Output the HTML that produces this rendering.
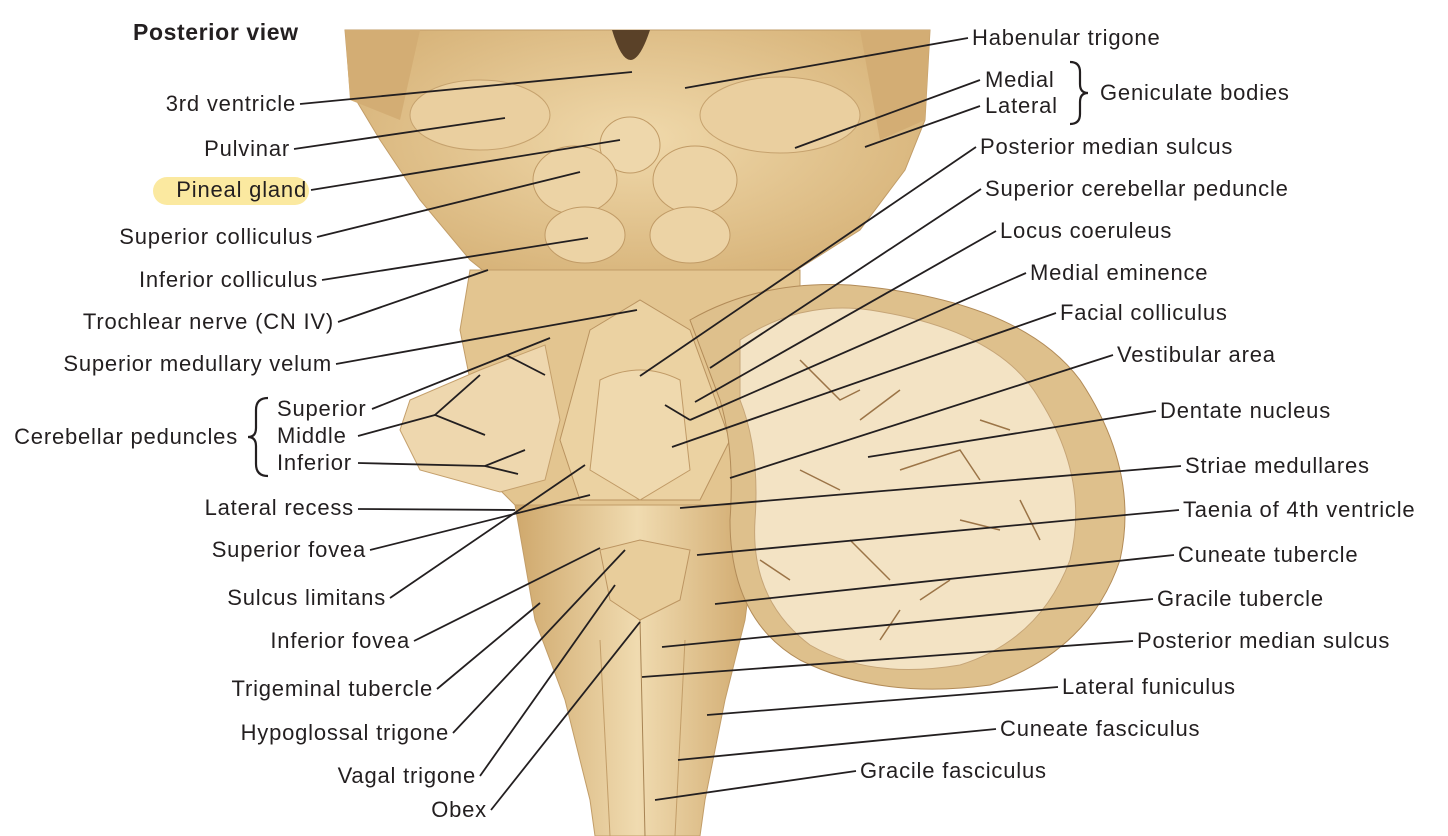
<!DOCTYPE html>
<html><head><meta charset="utf-8"><style>
html,body{margin:0;padding:0;background:#fff;}
svg{display:block;}
text{font-family:"Liberation Sans",sans-serif;font-size:22px;letter-spacing:0.8px;fill:#231f20;}
</style></head><body>
<svg width="1448" height="836" viewBox="0 0 1448 836" xmlns="http://www.w3.org/2000/svg">
<defs>
<radialGradient id="bg1" cx="50%" cy="40%" r="60%"><stop offset="0" stop-color="#f0d9ab"/><stop offset="1" stop-color="#d5b075"/></radialGradient>
<linearGradient id="med" x1="0" x2="1"><stop offset="0" stop-color="#cfa86c"/><stop offset="0.5" stop-color="#f0dbb0"/><stop offset="1" stop-color="#cea66a"/></linearGradient>
</defs>
<path d="M345,30 L930,30 L925,120 L905,170 L860,230 L800,268 L740,300 L520,300 L470,260 L420,200 L380,140 L350,90 Z" fill="url(#bg1)" stroke="#c29d68"/>
<path d="M345,30 L420,30 L400,120 L350,100 Z" fill="#d3ad74"/>
<path d="M860,30 L930,30 L925,120 L880,140 Z" fill="#d3ad74"/>
<path d="M612,30 Q630,90 650,30 Z" fill="#5a4128"/>
<ellipse cx="480" cy="115" rx="70" ry="35" fill="#eacf9f" stroke="#c6a26e"/>
<ellipse cx="780" cy="115" rx="80" ry="38" fill="#eacf9f" stroke="#c6a26e"/>
<ellipse cx="630" cy="145" rx="30" ry="28" fill="#eed7ab" stroke="#c19b66"/>
<ellipse cx="575" cy="180" rx="42" ry="34" fill="#ecd3a5" stroke="#c19b66"/>
<ellipse cx="695" cy="180" rx="42" ry="34" fill="#ecd3a5" stroke="#c19b66"/>
<ellipse cx="585" cy="235" rx="40" ry="28" fill="#ecd3a5" stroke="#c19b66"/>
<ellipse cx="690" cy="235" rx="40" ry="28" fill="#ecd3a5" stroke="#c19b66"/>
<path d="M470,270 L800,270 L800,330 L770,480 L750,510 L520,510 L490,480 L460,330 Z" fill="#e3c590" stroke="#c29d68"/>
<path d="M590,330 L640,300 L690,330 L730,440 L700,500 L580,500 L560,440 Z" fill="#ebd2a2" stroke="#b99360"/>
<path d="M600,380 Q640,360 680,380 L690,470 L640,500 L590,470 Z" fill="#efd9ae" stroke="#c09a66"/>
<path d="M410,400 L480,370 L545,345 L560,420 L545,480 L500,492 L420,470 L400,430 Z" fill="#eed7ae" stroke="#c49f6b"/>
<path d="M515,505 L760,505 L745,620 L725,700 L705,800 L700,836 L595,836 L590,800 L565,700 L535,620 Z" fill="url(#med)" stroke="#c29d68"/>
<path d="M600,550 L640,540 L690,550 L680,600 L640,620 L610,600 Z" fill="#e8cd9b" stroke="#bc9562"/>
<line x1="640" y1="620" x2="645" y2="836" stroke="#a78353"/>
<line x1="600" y1="640" x2="610" y2="836" stroke="#c29d68"/>
<line x1="685" y1="640" x2="675" y2="836" stroke="#c29d68"/>
<path d="M690,320 Q760,280 850,285 Q1020,300 1080,380 Q1140,470 1120,560 Q1090,650 990,685 Q880,700 800,660 Q730,620 730,520 Q735,450 720,400 Z" fill="#deC08c" stroke="#b28b58"/>
<path d="M740,340 Q800,300 870,310 Q1000,330 1040,400 Q1090,480 1070,560 Q1040,640 960,665 Q870,680 810,645 Q750,600 755,520 Q760,450 740,400 Z" fill="#f3e3c4" stroke="#c6a577"/>
<g stroke="#9b7447" stroke-width="1.5" fill="none">
<path d="M800,360 l40,40 l20,-10 M860,420 l40,-30 M900,470 l60,-20 l20,30 M960,520 l40,10 M850,540 l40,40 M920,600 l30,-20 M800,470 l40,20 M980,420 l30,10 M1020,500 l20,40 M880,640 l20,-30 M760,560 l30,20"/>
</g>
<text x="133" y="40" style="font-weight:bold;font-size:23px;letter-spacing:0.6px">Posterior view</text>
<rect x="153" y="177" width="156" height="28" rx="14" fill="#fbe9a0"/>
<g stroke="#231f20" stroke-width="1.8" fill="none">
<line x1="300" y1="104" x2="632" y2="72"/>
<line x1="294" y1="149" x2="505" y2="118"/>
<line x1="311" y1="190" x2="620" y2="140"/>
<line x1="317" y1="237" x2="580" y2="172"/>
<line x1="322" y1="280" x2="588" y2="238"/>
<line x1="338" y1="322" x2="488" y2="270"/>
<line x1="336" y1="364" x2="637" y2="310"/>
<line x1="372" y1="409" x2="550" y2="338"/>
<polyline points="506,355 545,375"/>
<polyline points="480,375 435,415 485,435"/>
<line x1="358" y1="436" x2="435" y2="415"/>
<polyline points="358,463 485,466 525,450"/>
<line x1="485" y1="466" x2="518" y2="474"/>
<line x1="358" y1="509" x2="515" y2="510"/>
<line x1="370" y1="550" x2="590" y2="495"/>
<line x1="390" y1="598" x2="585" y2="465"/>
<line x1="414" y1="641" x2="600" y2="548"/>
<line x1="437" y1="689" x2="540" y2="603"/>
<line x1="453" y1="733" x2="625" y2="550"/>
<line x1="480" y1="776" x2="615" y2="585"/>
<line x1="491" y1="810" x2="640" y2="622"/>
<line x1="968" y1="38" x2="685" y2="88"/>
<line x1="980" y1="80" x2="795" y2="148"/>
<line x1="980" y1="106" x2="865" y2="147"/>
<line x1="976" y1="147" x2="640" y2="376"/>
<line x1="981" y1="189" x2="710" y2="368"/>
<line x1="996" y1="231" x2="695" y2="402"/>
<line x1="1026" y1="273" x2="690" y2="420"/>
<line x1="665" y1="405" x2="690" y2="420"/>
<line x1="1056" y1="313" x2="672" y2="447"/>
<line x1="1113" y1="355" x2="730" y2="478"/>
<line x1="1156" y1="411" x2="868" y2="457"/>
<line x1="1181" y1="466" x2="680" y2="508"/>
<line x1="1179" y1="510" x2="697" y2="555"/>
<line x1="1174" y1="555" x2="715" y2="604"/>
<line x1="1153" y1="599" x2="662" y2="647"/>
<line x1="1133" y1="641" x2="642" y2="677"/>
<line x1="1058" y1="687" x2="707" y2="715"/>
<line x1="996" y1="729" x2="678" y2="760"/>
<line x1="856" y1="771" x2="655" y2="800"/>
<path d="M268,398 Q256,398 256,410 L256,428 Q256,437 248,437 Q256,437 256,446 L256,464 Q256,476 268,476" stroke-width="2.2"/>
<path d="M1070,62 Q1080,62 1080,72 L1080,84 Q1080,93 1088,93 Q1080,93 1080,102 L1080,114 Q1080,124 1070,124" stroke-width="2.2"/>
</g>
<g text-anchor="end">
<text x="296" y="111">3rd ventricle</text>
<text x="290" y="156">Pulvinar</text>
<text x="307" y="197">Pineal gland</text>
<text x="313" y="244">Superior colliculus</text>
<text x="318" y="287">Inferior colliculus</text>
<text x="334" y="329">Trochlear nerve (CN IV)</text>
<text x="332" y="371">Superior medullary velum</text>
<text x="238" y="444">Cerebellar peduncles</text>
<text x="354" y="515">Lateral recess</text>
<text x="366" y="557">Superior fovea</text>
<text x="386" y="605">Sulcus limitans</text>
<text x="410" y="648">Inferior fovea</text>
<text x="433" y="696">Trigeminal tubercle</text>
<text x="449" y="740">Hypoglossal trigone</text>
<text x="476" y="783">Vagal trigone</text>
<text x="487" y="817">Obex</text>
</g>
<text x="277" y="416">Superior</text>
<text x="277" y="443">Middle</text>
<text x="277" y="470">Inferior</text>
<text x="972" y="45">Habenular trigone</text>
<text x="985" y="87">Medial</text>
<text x="985" y="113">Lateral</text>
<text x="1100" y="100">Geniculate bodies</text>
<text x="980" y="154">Posterior median sulcus</text>
<text x="985" y="196">Superior cerebellar peduncle</text>
<text x="1000" y="238">Locus coeruleus</text>
<text x="1030" y="280">Medial eminence</text>
<text x="1060" y="320">Facial colliculus</text>
<text x="1117" y="362">Vestibular area</text>
<text x="1160" y="418">Dentate nucleus</text>
<text x="1185" y="473">Striae medullares</text>
<text x="1183" y="517">Taenia of 4th ventricle</text>
<text x="1178" y="562">Cuneate tubercle</text>
<text x="1157" y="606">Gracile tubercle</text>
<text x="1137" y="648">Posterior median sulcus</text>
<text x="1062" y="694">Lateral funiculus</text>
<text x="1000" y="736">Cuneate fasciculus</text>
<text x="860" y="778">Gracile fasciculus</text>
</svg>
</body></html>
